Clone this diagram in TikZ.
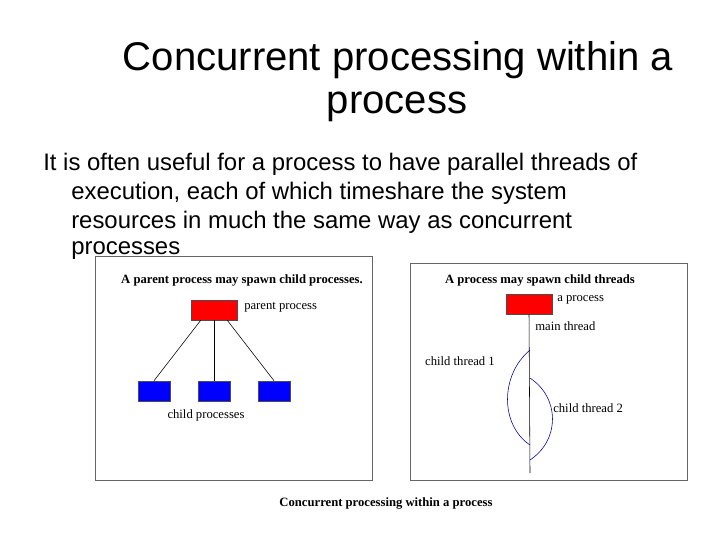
\documentclass[tikz,border=0pt]{standalone}
\usepackage{fontspec}
\setmainfont{Liberation Sans}
\newfontfamily\serifpic{Liberation Serif}
\begin{document}
\begin{tikzpicture}[x=0.025cm,y=-0.025cm,
  bodytext/.style={anchor=west,inner sep=0pt,font=\fontsize{17}{20}\selectfont},
  pictext/.style={inner sep=0pt,font=\serifpic\fontsize{9}{10}\selectfont},
  pictitle/.style={inner sep=0pt,font=\serifpic\bfseries\fontsize{9}{10}\selectfont},
  procbox/.style={draw=black!70,fill=red,minimum width=46*0.025cm,minimum height=20*0.025cm,inner sep=0pt},
  childbox/.style={draw=black!70,fill=blue,minimum width=32*0.025cm,minimum height=20*0.025cm,inner sep=0pt},
  frame/.style={draw=black!60,line width=0.6pt}]
\useasboundingbox (0,0) rectangle (720,540);
% heading and text
\node (title1) at (398,60) {\fontsize{28.5}{33}\selectfont Concurrent processing within a};
\node (title2) at (397,107) {\fontsize{28.5}{33}\selectfont process};
\node[bodytext] (line1) at (43,164) {It is often useful for a process to have parallel threads of};
\node[bodytext] (line2) at (71,193) {execution, each of which timeshare the system};
\node[bodytext] (line3) at (71,222) {resources in much the same way as concurrent};
\node[bodytext] (line4) at (71,251) {processes};

% left picture
\draw[frame,fill=white] (95,256) rectangle (372,480);
\node[pictitle] (lefttitle) at (242,280) {A parent process may spawn child processes.};
\node[procbox] (parent) at (214,310) {};
\node[pictext,anchor=west] (parentlbl) at (244,307) {parent process};
\node[childbox] (childa) at (154,391) {};
\node[childbox] (childb) at (214,391) {};
\node[childbox] (childc) at (274,391) {};
\draw (parent.south west)++(10,0) -- (childa.north);
\draw (parent.south) -- (childb.north);
\draw (parent.south east)++(-10,0) -- (childc.north);
\node[pictext] (childlbl) at (206,415) {child processes};

% right picture
\draw[frame,fill=white] (410,263) rectangle (687,480);
\node[pictitle] (righttitle) at (540,280) {A process may spawn child threads};
\node[procbox] (aproc) at (529,304) {};
\node[pictext,anchor=west] (aproclbl) at (557,300) {a process};
\coordinate (mainend) at (530,473);
\draw (aproc.south) -- (mainend);
\node[pictext,anchor=west] (mainlbl) at (535,326) {main thread};
\node[pictext] (child1lbl) at (460,361) {child thread 1};
\node[pictext,anchor=west] (child2lbl) at (553,408) {child thread 2};
\coordinate (c1start) at (530,350);
\coordinate (c1end) at (530,445);
\coordinate (c2start) at (530,378);
\coordinate (c2end) at (530,460);
\draw[blue!60!black] (c1start) .. controls (500,375) and (500,425) .. (c1end);
\draw[blue!60!black] (c2start) .. controls (560,398) and (560,440) .. (c2end);

\node[pictitle] (caption) at (386,503) {Concurrent processing within a process};
\end{tikzpicture}
\end{document}
